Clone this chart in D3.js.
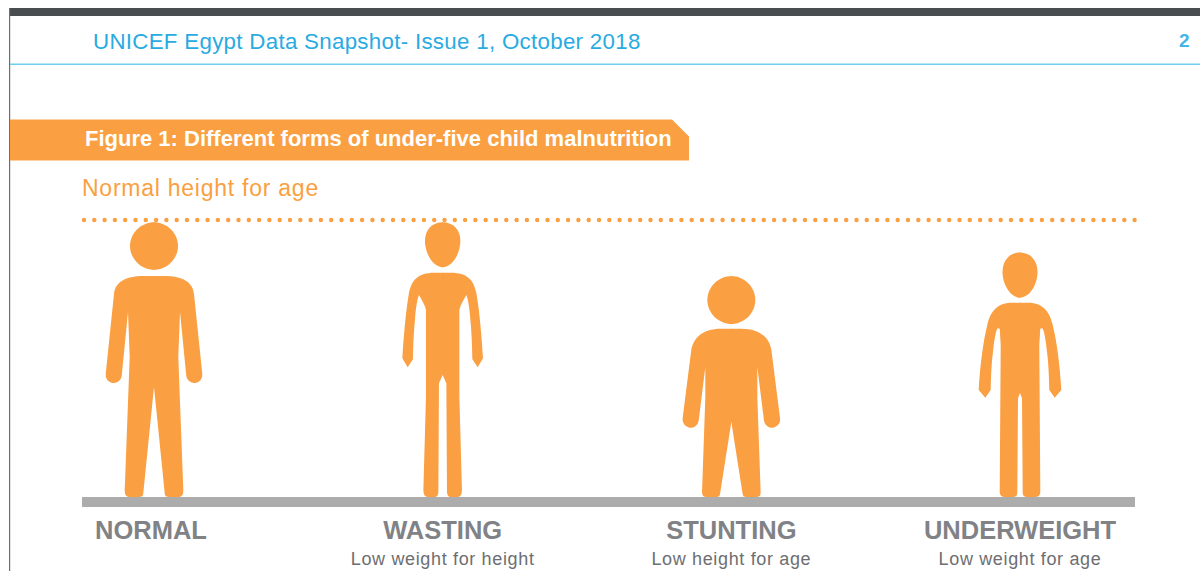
<html>

<head>
<title>Figure 1: Different forms of under-five child malnutrition</title>

<script src="https://d3js.org/d3.v7.min.js"></script>

<style>
body { margin: 0; background: #fff; font-family: 'Liberation Sans', Arial, sans-serif; }
svg { display: block; }
</style>

</head>

<body>

<div id="chart"></div>

<script>

// data
var forms = ["NORMAL", "WASTING", "STUNTING", "UNDERWEIGHT"];
var descriptions = ["", "Low weight for height", "Low height for age", "Low weight for age"];
// height of each figure as a percent of normal height for age (dotted line)
var heightPct = [99.2, 99.2, 79.8, 88.3];
var referencePct = 100;

var orange = "#fa9f42", grey = "#808285", blue = "#29abe2";

// silhouettes, right half only, x from the figure's centre and y up from the ground.
// each one is stretched to its height from heightPct
var bodies = {
  NORMAL: {
    design: 274.7,
    head: "M-0.5,-274.7 C13,-274.7 24,-264 24,-251 C24,-238 13,-227 -0.5,-227 Z",
    body: "M-0.5,-221 L10,-221 C30,-221 39,-214 40,-203 L48.3,-123 A8,8 0 0 1 32.3,-121 L26,-185 L24.3,-140 L29.3,-7 Q29.5,0 25,0 L15,0 Q11,0 10.8,-3 L0,-110 L-0.5,-110 Z"
  },
  WASTING: {
    design: 274.7,
    head: "M-0.5,-274.7 C11,-274.7 17.7,-267 17.7,-256 C17.7,-244 10,-229.7 -0.5,-229.7 Z",
    body: "M-0.5,-224.3 L8,-224.3 C26,-224.3 31,-216 33.7,-204 C37,-185 39,-160 40.3,-138.7 L35,-129.7 L29.7,-137.7 C29.5,-155 28.5,-170 27.7,-177 C27,-190 25,-199 23.7,-202 C21,-197 17.5,-192 16.7,-187 L16.7,-100 L19.3,-7 Q19.3,0 15,0 L8,0 Q4.5,0 4.3,-5 L3.7,-113.7 L0,-122 L-0.5,-122 Z"
  },
  STUNTING: {
    design: 221,
    head: "M-0.5,-221 C13,-221 24,-210 24,-197 C24,-184 13,-173 -0.5,-173 Z",
    body: "M-0.5,-168.3 L10,-168.3 C30,-168.3 39,-158 40.3,-145 L48.7,-78.7 A8,8 0 0 1 32.7,-76 L26,-130 L26,-100 L29.3,-5 Q29.5,0 25,0 L15,0 Q11.5,0 11.3,-3 L0,-75 L-0.5,-75 Z"
  },
  UNDERWEIGHT: {
    design: 244.7,
    head: "M-0.5,-244.7 C11,-244.7 17.5,-236 17.5,-225 C17.5,-213 10,-199.3 -0.5,-199.3 Z",
    body: "M-0.5,-194.3 L8,-194.3 C24,-194.3 30,-184 32.7,-172 C37,-155 40,-130 41.3,-107 L34.7,-99.3 L29.3,-107 C29,-125 28,-138 27,-145 C26,-155 24.5,-165 22.7,-168.7 L20.3,-168.7 L19.3,-152 L20.3,-5 Q20.3,0 15,0 L7,0 Q2.8,0 2.7,-4 L2,-98.7 L0,-104 L-0.5,-104 Z"
  }
};

var width = 1200, height = 571;

var svg = d3.select("#chart").append("svg")
  .attr("width", width).attr("height", height);

var x = d3.scalePoint().domain(forms).range([154, 1020]);
var y = d3.scaleLinear().domain([0, 100]).range([497, 220]);

// page furniture
svg.append("rect").attr("x", 9).attr("y", 8).attr("width", 1191).attr("height", 8).attr("fill", "#4a4d50");
svg.append("rect").attr("x", 9).attr("y", 8).attr("width", 1.2).attr("height", 563).attr("fill", "#6d6e71");
svg.append("rect").attr("x", 10).attr("y", 63.5).attr("width", 1190).attr("height", 1.5).attr("fill", "#6fcdf0");

svg.append("text")
  .attr("x", 93).attr("y", 49)
  .style("font-size", "22.3px").style("letter-spacing", "0.3px").style("fill", blue)
  .text("UNICEF Egypt Data Snapshot- Issue 1, October 2018");

svg.append("text")
  .attr("x", 1189.5).attr("y", 46.5).attr("text-anchor", "end")
  .style("font-size", "19px").style("font-weight", "bold").style("fill", "#45b5e6")
  .text("2");

// title banner with the clipped corner
svg.append("path")
  .attr("d", "M10,119.5 L672,119.5 L689,136.5 L689,160.5 L10,160.5 Z")
  .attr("fill", orange);

svg.append("text")
  .attr("x", 85).attr("y", 146)
  .style("font-size", "22px").style("font-weight", "bold").style("fill", "#fff")
  .text("Figure 1: Different forms of under-five child malnutrition");

svg.append("text")
  .attr("x", 82).attr("y", 195.5)
  .style("font-size", "23px").style("letter-spacing", "0.75px").style("fill", orange)
  .text("Normal height for age");

// dotted reference line
svg.append("line")
  .attr("x1", 84).attr("x2", 1135)
  .attr("y1", y(referencePct)).attr("y2", y(referencePct))
  .attr("stroke", orange).attr("stroke-width", 4.4)
  .attr("stroke-linecap", "round").attr("stroke-dasharray", "0 10.3");

// figures
var people = svg.selectAll(".person")
  .data(forms)
  .enter().append("g")
  .attr("class", "person")
  .attr("transform", function(d, i) {
    var k = (y(0) - y(heightPct[i])) / bodies[d].design;
    return "translate(" + x(d) + "," + y(0) + ") scale(1," + k + ")";
  });

[1, -1].forEach(function(side) {
  var half = people.append("g").attr("transform", "scale(" + side + ",1)").attr("fill", orange);
  half.append("path").attr("d", function(d) { return bodies[d].head; });
  half.append("path").attr("d", function(d) { return bodies[d].body; });
});

// ground
svg.append("rect")
  .attr("x", 82).attr("y", y(0)).attr("width", 1053).attr("height", 10)
  .attr("fill", "#acacac");

// labels
svg.selectAll(".form")
  .data(forms)
  .enter().append("text")
  .attr("class", "form")
  .attr("x", function(d) { return d == "NORMAL" ? x(d) - 3 : x(d); })
  .attr("y", 539)
  .attr("text-anchor", "middle")
  .style("font-size", "25.5px").style("font-weight", "bold").style("fill", grey)
  .text(function(d) { return d; });

svg.selectAll(".desc")
  .data(descriptions)
  .enter().append("text")
  .attr("class", "desc")
  .attr("x", function(d, i) { return x(forms[i]); })
  .attr("y", 564.5)
  .attr("text-anchor", "middle")
  .style("font-size", "18px").style("letter-spacing", "0.65px").style("fill", "#6d6e71")
  .text(function(d) { return d; });

</script>
</body>
</html>
